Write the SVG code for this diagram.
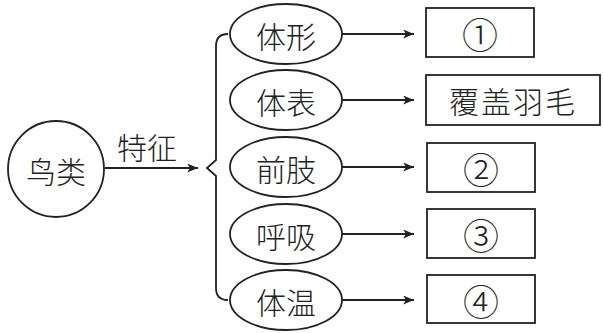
<svg xmlns="http://www.w3.org/2000/svg" width="604" height="333" viewBox="0 0 604 333">
<style>
.s{fill:none;stroke:#222;stroke-width:1.8}
.t{font-family:"Noto Sans CJK SC","Noto Sans CJK JP",sans-serif;font-size:30px;font-weight:300;fill:#222;text-anchor:middle;dominant-baseline:central}
.n{font-family:"Noto Sans CJK SC","Noto Sans CJK JP",serif;font-size:36px;font-weight:300;fill:#222;text-anchor:middle;dominant-baseline:central}
.c{stroke:#222;stroke-width:1.8;fill:none}
</style>
<defs>
<marker id="ah" viewBox="0 0 12 10" refX="12" refY="5" markerWidth="12" markerHeight="9" markerUnits="userSpaceOnUse" orient="auto">
<path d="M0,0 L12,5 L0,10 L3,5 Z" fill="#222"/>
</marker>
</defs>
<rect width="604" height="333" fill="#fff"/>
<g id="birds">
<circle class="s" cx="56" cy="169" r="48"/>
<text class="t" x="56" y="170">鸟类</text>
</g>
<g id="e1"><ellipse class="s" cx="286" cy="34" rx="56" ry="30"/><text class="t" x="286" y="35">体形</text></g>
<g id="e2"><ellipse class="s" cx="286" cy="100" rx="56" ry="30"/><text class="t" x="286" y="101">体表</text></g>
<g id="e3"><ellipse class="s" cx="286" cy="167" rx="56" ry="30"/><text class="t" x="286" y="168">前肢</text></g>
<g id="e4"><ellipse class="s" cx="286" cy="234" rx="56" ry="30"/><text class="t" x="286" y="235">呼吸</text></g>
<g id="e5"><ellipse class="s" cx="286" cy="300" rx="56" ry="30"/><text class="t" x="286" y="301">体温</text></g>
<g id="b1"><rect class="s" x="426" y="8" width="108" height="49"/><text class="n" x="480" y="33">①</text></g>
<g id="b2"><rect class="s" x="426" y="75" width="174" height="50"/><text class="t" x="513" y="100" letter-spacing="2">覆盖羽毛</text></g>
<g id="b3"><rect class="s" x="427" y="143" width="108" height="49"/><text class="n" x="481" y="168">②</text></g>
<g id="b4"><rect class="s" x="427" y="209" width="108" height="49"/><text class="n" x="481" y="234">③</text></g>
<g id="b5"><rect class="s" x="427" y="275" width="108" height="48"/><text class="n" x="481" y="300">④</text></g>
<g id="connectors">
<line class="c" x1="105" y1="168" x2="198" y2="168" marker-end="url(#ah)"/>
<text class="t" x="147" y="146">特征</text>
<path class="c" d="M228,34 Q216,34 216,46 L216,160 L207,168 L216,176 L216,288 Q216,300 228,300"/>
<line class="c" x1="342" y1="34" x2="414" y2="34" marker-end="url(#ah)"/>
<line class="c" x1="342" y1="100" x2="414" y2="100" marker-end="url(#ah)"/>
<line class="c" x1="342" y1="167" x2="414" y2="167" marker-end="url(#ah)"/>
<line class="c" x1="342" y1="234" x2="414" y2="234" marker-end="url(#ah)"/>
<line class="c" x1="342" y1="300" x2="414" y2="300" marker-end="url(#ah)"/>
</g>
</svg>
